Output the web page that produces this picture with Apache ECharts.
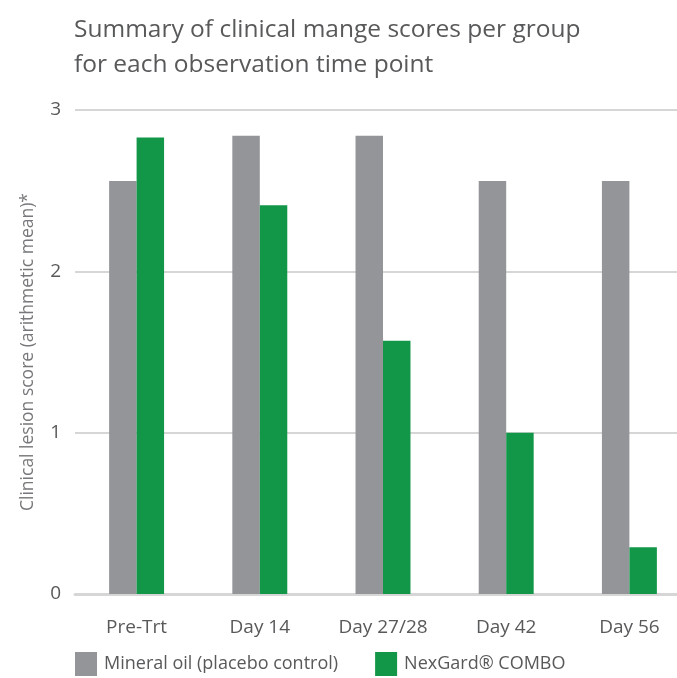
<!DOCTYPE html>
<html>
<head>
<meta charset="utf-8">
<script src="https://cdn.jsdelivr.net/npm/echarts@6/dist/echarts.min.js"></script>
<style>
  html, body { margin: 0; padding: 0; background: #fff; overflow: hidden; }
  #chart { width: 691px; height: 678px; }
</style>
</head>
<body>
<div id="chart"></div>
<script>
var categories = ['Pre-Trt', 'Day 14', 'Day 27/28', 'Day 42', 'Day 56'];
var placeboScores = [2.56, 2.84, 2.84, 2.56, 2.56];
var comboScores = [2.83, 2.41, 1.57, 1.0, 0.29];
var yTicks = [0, 1, 2, 3];

var textColor = '#58595b';
var fontName = 'Open Sans';

// chart div is a bit wider than the window: the last category is cut at the right edge
var myChart = echarts.init(document.getElementById('chart'));

var option = {
    animation: false,
    backgroundColor: '#ffffff',
    title: {
        text: 'Summary of clinical mange scores per group\nfor each observation time point',
        left: 69,
        top: 8,
        textStyle: {
            color: textColor,
            fontFamily: fontName,
            fontWeight: 'normal',
            fontSize: 24.5,
            lineHeight: 35
        }
    },
    legend: {
        data: ['Mineral oil (placebo control)', 'NexGard® COMBO'],
        left: 70,
        top: 647,
        icon: 'rect',
        itemWidth: 22,
        itemHeight: 24,
        itemGap: 37,
        textStyle: {
            color: textColor,
            fontFamily: fontName,
            fontSize: 18,
            padding: [0, 0, 0, 2]
        }
    },
    grid: {
        left: 75,
        right: 0,
        top: 110,
        bottom: 84
    },
    xAxis: {
        type: 'category',
        data: categories,
        axisTick: { show: false },
        axisLine: {
            lineStyle: { color: '#d6d6d7', width: 3 }
        },
        axisLabel: {
            color: textColor,
            fontFamily: fontName,
            fontSize: 19,
            margin: 24
        }
    },
    yAxis: {
        type: 'value',
        min: yTicks[0],
        max: yTicks[yTicks.length - 1],
        interval: 1,
        name: 'Clinical lesion score (arithmetic mean)*',
        nameLocation: 'middle',
        nameGap: 38,
        nameTextStyle: {
            color: '#77787b',
            fontFamily: fontName,
            fontSize: 17.5
        },
        axisLine: { show: false },
        axisTick: { show: false },
        axisLabel: {
            color: textColor,
            fontFamily: fontName,
            fontSize: 19,
            margin: 14
        },
        splitLine: {
            lineStyle: { color: '#d6d6d7', width: 2 }
        }
    },
    series: [{
        name: 'Mineral oil (placebo control)',
        type: 'bar',
        data: placeboScores,
        barWidth: '22.3%',
        barGap: '0%',
        itemStyle: { color: '#939598' }
    }, {
        name: 'NexGard® COMBO',
        type: 'bar',
        data: comboScores,
        barWidth: '22.3%',
        barGap: '0%',
        itemStyle: { color: '#129647' }
    }]
};

myChart.setOption(option);
</script>
</body>
</html>
